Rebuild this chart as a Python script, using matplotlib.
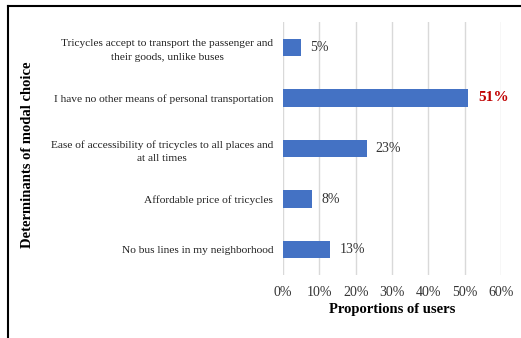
import matplotlib
matplotlib.use("Agg")
import matplotlib.pyplot as plt
from matplotlib.lines import Line2D

# Survey results: why users choose tricycles
categories = [
    "Tricycles accept to transport the passenger and\ntheir goods, unlike buses",
    "I have no other means of personal transportation",
    "Ease of accessibility of tricycles to all places and\nat all times",
    "Affordable price of tricycles",
    "No bus lines in my neighborhood",
]
shares = [5, 51, 23, 8, 13]
xticks = [0, 10, 20, 30, 40, 50, 60]

plt.rcParams['font.family'] = ['Liberation Serif', 'DejaVu Serif']

W, H = 521, 338
fig = plt.figure(figsize=(W / 100, H / 100), dpi=100)
ax = fig.add_axes([283 / W, 1 - 275 / H, 218 / W, 253 / H])

ypos = list(range(len(categories)))
ax.barh(ypos, shares, height=0.34, color='#4472C4', zorder=3)
ax.set_ylim(len(categories) - 0.5, -0.5)
ax.set_xlim(0, 60)

for y, v in zip(ypos, shares):
    if v == max(shares):
        ax.text(v + 2.7, y, f"{v}%", va='center', ha='left', fontsize=11,
                fontweight='bold', color='#C00000')
    else:
        ax.text(v + 2.5, y, f"{v}%", va='center', ha='left', fontsize=10,
                color='#333333')

ax.set_yticks(ypos)
ax.set_yticklabels(categories, fontsize=8.2, ha='right', color='#222222')
for lbl in ax.get_yticklabels():
    lbl.set_multialignment('center')
    lbl.set_linespacing(1.6)
ax.tick_params(axis='y', length=0, pad=7)
ax.set_xticks(xticks)
ax.set_xticklabels([f"{t}%" for t in xticks], fontsize=10, color='#333333')
ax.tick_params(axis='x', length=0, pad=8)

ax.grid(axis='x', color='#D9D9D9', linewidth=1.0, zorder=0)
for s in ax.spines.values():
    s.set_visible(False)

ax.set_xlabel("Proportions of users", fontsize=10.5, fontweight='bold', labelpad=3)
fig.text(28 / W, 1 - 155 / H, "Determinants of modal choice", rotation=90,
         fontsize=10.5, fontweight='bold', va='center', ha='center')

# frame around the figure (top and left edges visible)
fig.add_artist(Line2D([8 / W, 1], [1 - 6 / H, 1 - 6 / H], transform=fig.transFigure,
                      color='black', linewidth=1.5))
fig.add_artist(Line2D([8 / W, 8 / W], [0, 1 - 6 / H], transform=fig.transFigure,
                      color='black', linewidth=1.5))

fig.savefig("out.png", dpi=100)
